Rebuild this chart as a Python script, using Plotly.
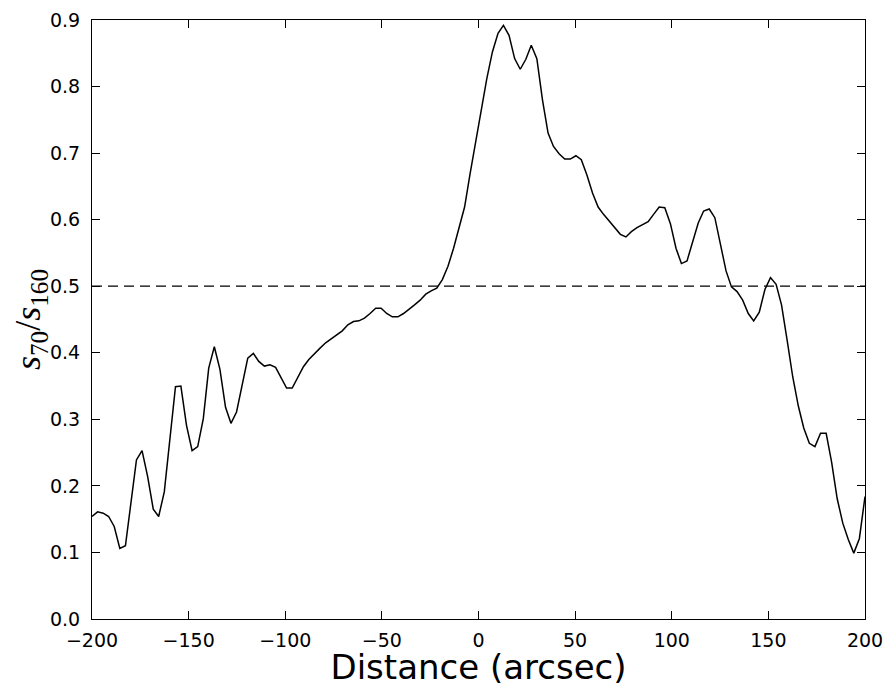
import plotly.graph_objects as go

# sample positions along the cut (arcsec)
distance = [
    -200.0, -197.1, -194.2, -191.4, -188.5, -185.6, -182.7, -179.9, -177.0, -174.1,
    -171.2, -168.3, -165.5, -162.6, -159.7, -156.8, -154.0, -151.1, -148.2, -145.3,
    -142.4, -139.6, -136.7, -133.8, -130.9, -128.1, -125.2, -122.3, -119.4, -116.5,
    -113.7, -110.8, -107.9, -105.0, -102.2, -99.3, -96.4, -93.5, -90.6, -87.8,
    -84.9, -82.0, -79.1, -76.3, -73.4, -70.5, -67.6, -64.7, -61.9, -59.0,
    -56.1, -53.2, -50.4, -47.5, -44.6, -41.7, -38.8, -36.0, -33.1, -30.2,
    -27.3, -24.5, -21.6, -18.7, -15.8, -12.9, -10.1, -7.2, -4.3, -1.4,
    1.4, 4.3, 7.2, 10.1, 12.9, 15.8, 18.7, 21.6, 24.5, 27.3,
    30.2, 33.1, 36.0, 38.8, 41.7, 44.6, 47.5, 50.4, 53.2, 56.1,
    59.0, 61.9, 64.7, 67.6, 70.5, 73.4, 76.3, 79.1, 82.0, 84.9,
    87.8, 90.6, 93.5, 96.4, 99.3, 102.2, 105.0, 107.9, 110.8, 113.7,
    116.5, 119.4, 122.3, 125.2, 128.1, 130.9, 133.8, 136.7, 139.6, 142.4,
    145.3, 148.2, 151.1, 154.0, 156.8, 159.7, 162.6, 165.5, 168.3, 171.2,
    174.1, 177.0, 179.9, 182.7, 185.6, 188.5, 191.4, 194.2, 197.1, 200.0,
]

# flux ratio s70/s160
ratio = [
    0.154, 0.161, 0.159, 0.154, 0.139, 0.106, 0.110, 0.176, 0.239, 0.253,
    0.214, 0.165, 0.154, 0.191, 0.269, 0.349, 0.350, 0.291, 0.253, 0.259,
    0.301, 0.377, 0.409, 0.375, 0.318, 0.294, 0.311, 0.354, 0.392, 0.399,
    0.387, 0.380, 0.382, 0.378, 0.362, 0.347, 0.347, 0.363, 0.379, 0.390,
    0.399, 0.407, 0.415, 0.421, 0.426, 0.433, 0.442, 0.447, 0.448, 0.452,
    0.459, 0.467, 0.467, 0.459, 0.454, 0.454, 0.459, 0.465, 0.472, 0.479,
    0.488, 0.493, 0.497, 0.510, 0.530, 0.557, 0.587, 0.619, 0.670, 0.720,
    0.767, 0.812, 0.852, 0.880, 0.892, 0.877, 0.842, 0.826, 0.841, 0.862,
    0.842, 0.780, 0.730, 0.710, 0.699, 0.691, 0.691, 0.696, 0.690, 0.667,
    0.640, 0.619, 0.608, 0.598, 0.588, 0.578, 0.574, 0.582, 0.588, 0.592,
    0.597, 0.608, 0.619, 0.618, 0.594, 0.557, 0.534, 0.538, 0.565, 0.595,
    0.613, 0.616, 0.603, 0.565, 0.523, 0.499, 0.492, 0.479, 0.459, 0.448,
    0.461, 0.495, 0.513, 0.503, 0.472, 0.419, 0.364, 0.320, 0.287, 0.264,
    0.259, 0.279, 0.279, 0.236, 0.181, 0.144, 0.119, 0.099, 0.121, 0.184,
]

threshold = 0.5
x_range = [-200, 200]
y_range = [0.0, 0.9]
x_ticks = [-200, -150, -100, -50, 0, 50, 100, 150, 200]
x_ticklabels = ["\u2212200", "\u2212150", "\u2212100", "\u221250", "0", "50", "100", "150", "200"]
y_ticks = [0.0, 0.1, 0.2, 0.3, 0.4, 0.5, 0.6, 0.7, 0.8, 0.9]
y_ticklabels = ["0.0", "0.1", "0.2", "0.3", "0.4", "0.5", "0.6", "0.7", "0.8", "0.9"]

fig = go.Figure()
fig.add_trace(go.Scatter(
    x=x_range, y=[threshold, threshold], mode="lines",
    line=dict(color="black", width=1.3, dash="10px,6px"),
    hoverinfo="skip", showlegend=False,
))
fig.add_trace(go.Scatter(
    x=distance, y=ratio, mode="lines",
    line=dict(color="black", width=1.5),
    showlegend=False,
))

axis_common = dict(
    showline=True, linecolor="black", linewidth=1.2, mirror="ticks",
    ticks="inside", ticklen=8, tickwidth=1, tickcolor="black",
    showgrid=False, zeroline=False,
    tickfont=dict(family="DejaVu Sans", size=19, color="black"),
)

# the page body has an 8px margin, so the figure is sized to fit the window
fig.update_layout(
    width=883, height=679,
    margin=dict(l=84, r=26, t=12, b=68, autoexpand=False),
    paper_bgcolor="white", plot_bgcolor="white",
    xaxis=dict(
        range=x_range, tickvals=x_ticks, ticktext=x_ticklabels,
        title=dict(text="Distance (arcsec)", standoff=6,
                   font=dict(family="DejaVu Sans", size=34, color="black")),
        ticklabelstandoff=4,
        **axis_common,
    ),
    yaxis=dict(
        range=y_range, tickvals=y_ticks, ticktext=y_ticklabels,
        title=dict(text="<i>s</i><sub>70</sub>/<i>s</i><sub>160</sub>", standoff=4,
                   font=dict(family="Liberation Serif", size=36, color="black")),
        ticklabelstandoff=7,
        **axis_common,
    ),
)

fig.write_html("out.html")
